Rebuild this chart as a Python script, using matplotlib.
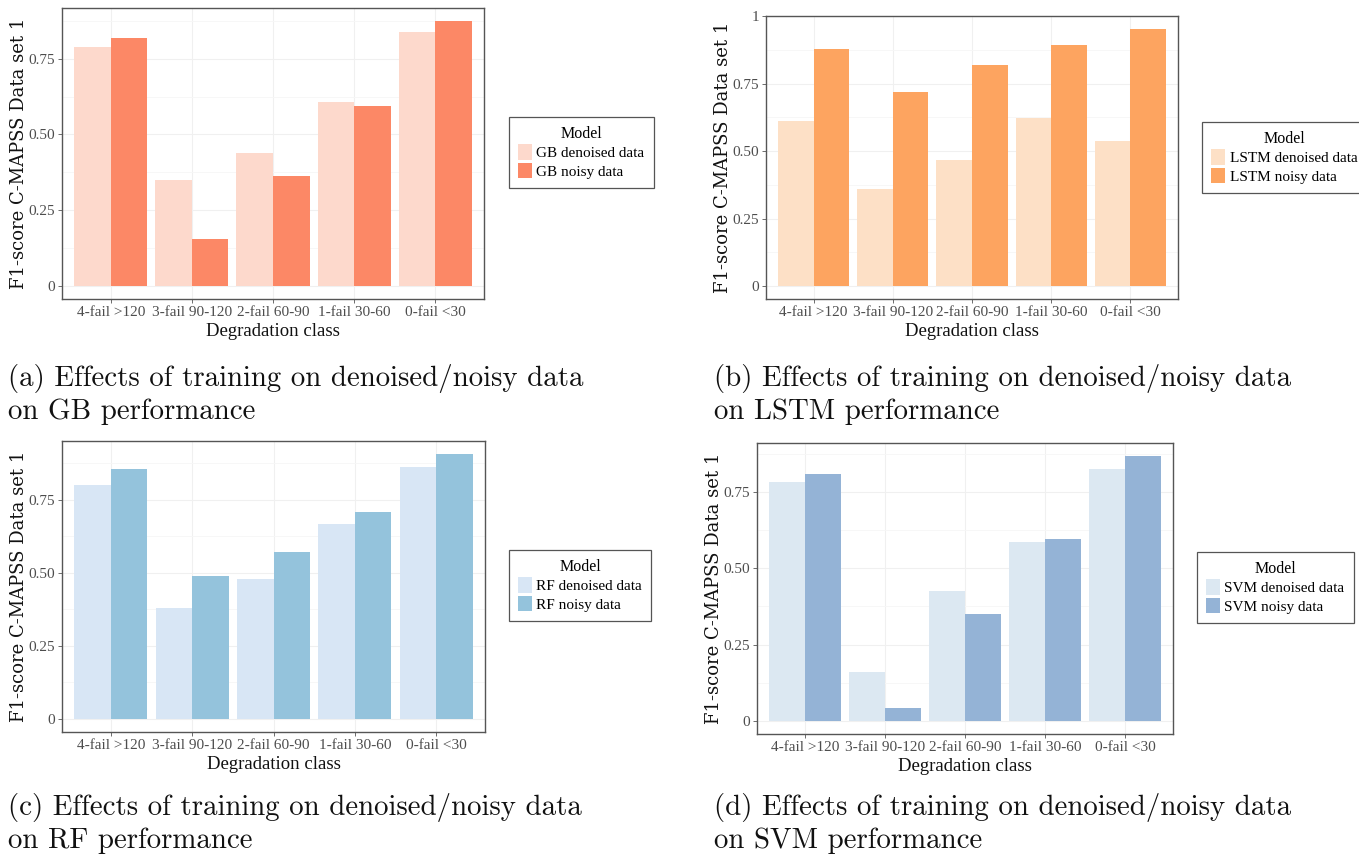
import matplotlib
matplotlib.use("Agg")
import matplotlib.pyplot as plt
from matplotlib.patches import Patch
import numpy as np

categories = ["4-fail >120", "3-fail 90-120", "2-fail 60-90", "1-fail 30-60", "0-fail <30"]

gb_denoised = [0.790, 0.349, 0.440, 0.606, 0.837]
gb_noisy = [0.817, 0.153, 0.362, 0.595, 0.874]
lstm_denoised = [0.613, 0.360, 0.469, 0.622, 0.537]
lstm_noisy = [0.877, 0.719, 0.818, 0.894, 0.953]
rf_denoised = [0.801, 0.379, 0.477, 0.666, 0.861]
rf_noisy = [0.855, 0.488, 0.570, 0.708, 0.906]
svm_denoised = [0.783, 0.160, 0.426, 0.586, 0.825]
svm_noisy = [0.810, 0.043, 0.350, 0.597, 0.868]

model_names = ["GB", "LSTM", "RF", "SVM"]
captions = [
    "(a) Effects of training on denoised/noisy data\non GB performance",
    "(b) Effects of training on denoised/noisy data\non LSTM performance",
    "(c) Effects of training on denoised/noisy data\non RF performance",
    "(d) Effects of training on denoised/noisy data\non SVM performance",
]
ytick_vals = [0, 0.25, 0.50, 0.75, 1.0]
ytick_labels = ["0", "0.25", "0.50", "0.75", "1"]

panels = [
    (gb_denoised, gb_noisy, "#fdd9cc", "#fc8866"),
    (lstm_denoised, lstm_noisy, "#fde0c6", "#fda460"),
    (rf_denoised, rf_noisy, "#d8e6f5", "#94c3dc"),
    (svm_denoised, svm_noisy, "#dce8f2", "#94b3d6"),
]

W, H = 1359, 859
fig = plt.figure(figsize=(W / 100, H / 100), dpi=100)

ax_boxes = [(62, 8, 484, 299), (766, 16, 1178, 299), (62, 441, 485, 732), (757, 443, 1173, 734)]
legend_pos = [(509, 117), (1202, 122), (509, 550), (1197, 552)]
caption_pos = [(8, 364), (714, 364), (8, 793), (714, 793)]

tick_font = "Liberation Serif"
grid_c = "#f0f0f0"

for i, (den, noi, c1, c2) in enumerate(panels):
    l, t, r, b = ax_boxes[i]
    ax = fig.add_axes([l / W, 1 - b / H, (r - l) / W, (b - t) / H])
    x = np.arange(len(categories))
    w = 0.45
    ax.bar(x - w / 2, den, width=w, color=c1, zorder=2, linewidth=0)
    ax.bar(x + w / 2, noi, width=w, color=c2, zorder=2, linewidth=0)
    ymax = max(max(den), max(noi))
    ax.set_ylim(-0.05 * ymax, 1.05 * ymax)
    ax.set_xlim(-0.6, len(categories) - 0.4)
    ticks = [v for v in ytick_vals if v <= 1.05 * ymax]
    ax.set_yticks(ticks)
    ax.set_yticklabels([ytick_labels[ytick_vals.index(v)] for v in ticks])
    ax.set_yticks([v + 0.125 for v in ytick_vals if v + 0.125 <= 1.05 * ymax], minor=True)
    ax.set_xticks(x)
    ax.set_xticklabels(categories)
    ax.grid(True, which="major", color=grid_c, linewidth=0.8, zorder=0)
    ax.grid(True, which="minor", axis="y", color="#f6f6f6", linewidth=0.6, zorder=0)
    ax.set_axisbelow(True)
    ax.tick_params(axis="both", which="major", length=3, width=0.6, color="#555555",
                   labelsize=11, labelcolor="#4d4d4d", pad=2)
    ax.tick_params(axis="y", which="minor", length=0)
    for lab in ax.get_xticklabels() + ax.get_yticklabels():
        lab.set_fontfamily(tick_font)
    for s in ax.spines.values():
        s.set_color("#555555")
        s.set_linewidth(1.0)
    ax.set_xlabel("Degradation class", fontfamily=tick_font, fontsize=13.5, labelpad=3, color="#111111")
    ax.set_ylabel("F1-score C-MAPSS Data set 1", fontfamily="DejaVu Serif", fontsize=13,
                  labelpad=0.5, color="#111111")

    handles = [Patch(facecolor=c1, edgecolor="none"), Patch(facecolor=c2, edgecolor="none")]
    lx, ly = legend_pos[i]
    leg = fig.legend(handles, [f"{model_names[i]} denoised data", f"{model_names[i]} noisy data"],
                     title="Model", loc="upper left", bbox_to_anchor=(lx / W, 1 - ly / H),
                     prop={"family": tick_font, "size": 11},
                     title_fontproperties={"family": tick_font, "size": 11.5},
                     frameon=True, fancybox=False, edgecolor="#555555", framealpha=1,
                     handlelength=0.9, handleheight=1.2, handletextpad=0.3, labelspacing=0.15,
                     borderpad=0.6, borderaxespad=0)
    leg.get_frame().set_linewidth(0.9)

    cx, cy = caption_pos[i]
    fig.text(cx / W, 1 - cy / H, captions[i], family="cmr10", fontsize=20.8, va="top", ha="left",
             linespacing=1.25, color="#111111")

fig.savefig("out.png", dpi=100)
